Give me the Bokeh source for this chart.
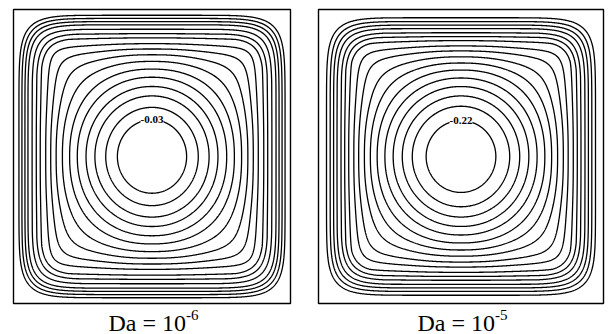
import numpy as np
from bokeh.plotting import figure
from bokeh.layouts import row
from bokeh.models import Label, Range1d
from bokeh.embed import file_html
from bokeh.resources import INLINE

# Darcy numbers of the two panels (exponent shown as superscript)
darcy_exponents = ["-6", "-5"]

# Stream-function value at the cavity centre for each case
psi_center = [-0.03247, -0.2373]

# Contour levels drawn in each panel (innermost level is labelled)
levels_da6 = [-0.0300, -0.0281, -0.0259, -0.0238, -0.0215, -0.0193, -0.0171,
              -0.0151, -0.0133, -0.0116, -0.0097, -0.0083, -0.0068, -0.0053,
              -0.0042, -0.0031, -0.0020]
levels_da5 = [-0.2200, -0.2039, -0.1893, -0.1740, -0.1586, -0.1430, -0.1284,
              -0.1150, -0.1017, -0.0901, -0.0776, -0.0676, -0.0583, -0.0481,
              -0.0393, -0.0305, -0.0209]
label_text = ["-0.03", "-0.22"]

SERIF = "Liberation Serif"
FIG_W, FIG_H = 304, 334
BOX_TOP, BOX_H = 9, 294          # cavity frame in pixels


def stream_function(psi_c, n=401):
    """Single-cell stream function in the unit cavity: round core, square outer cells."""
    x = np.linspace(0.0, 1.0, n)
    y = np.linspace(0.0, 1.0, n)
    X, Y = np.meshgrid(x, y)
    u = np.abs(X - 0.5)
    v = np.abs(Y - 0.5)
    r_e = 2.0 * np.sqrt(u ** 2 + v ** 2)
    pw = 2.0 + 6.0 * np.clip(r_e, 0.0, 1.0) ** 6
    rho = 2.0 * (u ** pw + v ** pw) ** (1.0 / pw)
    psi = psi_c * np.cos(0.5 * np.pi * rho)
    return x, y, psi


def panel(psi_c, levels, inner_label, exponent, box_left, box_w):
    # unit cavity mapped onto the pixel box, caption area below it
    sx = 1.0 / box_w
    sy = 1.0 / BOX_H
    x_rng = Range1d(-box_left * sx, (FIG_W - box_left) * sx)
    bottom_px = FIG_H - BOX_TOP - BOX_H
    y_rng = Range1d(-bottom_px * sy, 1.0 + BOX_TOP * sy)
    p = figure(width=FIG_W, height=FIG_H, x_range=x_rng, y_range=y_rng,
               x_axis_location=None, y_axis_location=None,
               toolbar_location=None, output_backend="svg",
               min_border=0)
    p.grid.visible = False
    p.outline_line_color = None
    p.background_fill_color = "white"
    p.border_fill_color = "white"

    x, y, psi = stream_function(psi_c)
    p.contour(x, y, psi, sorted(levels), line_color="black", line_width=1.3)

    # cavity walls
    p.quad(left=[0], right=[1], bottom=[0], top=[1], fill_color=None,
           line_color="black", line_width=1.4)

    # inline label on the innermost streamline (top of the ring)
    inner = min(levels)
    d = np.arcsin(inner / psi_c) / np.pi
    p.add_layout(Label(x=0.5, y=1.0 - d, text=inner_label,
                       text_align="center", text_baseline="middle",
                       text_font=SERIF, text_font_size="11px",
                       text_font_style="bold", text_color="black",
                       background_fill_color="white",
                       background_fill_alpha=1.0))

    # caption "Da = 10^exp" under the panel
    p.add_layout(Label(x=0.5, y=-19 * sy, x_offset=34, text="Da = 10",
                       text_align="right", text_baseline="alphabetic",
                       text_font=SERIF, text_font_size="24px",
                       text_color="black"))
    p.add_layout(Label(x=0.5, y=-11 * sy, x_offset=34, text=exponent,
                       text_align="left", text_baseline="alphabetic",
                       text_font=SERIF, text_font_size="15px",
                       text_color="black"))
    return p


p1 = panel(psi_center[0], levels_da6, label_text[0], darcy_exponents[0], 13, 277)
p2 = panel(psi_center[1], levels_da5, label_text[1], darcy_exponents[1], 14, 285)

layout = row(p1, p2, spacing=0)
open("out.html", "w").write(file_html(layout, INLINE))
